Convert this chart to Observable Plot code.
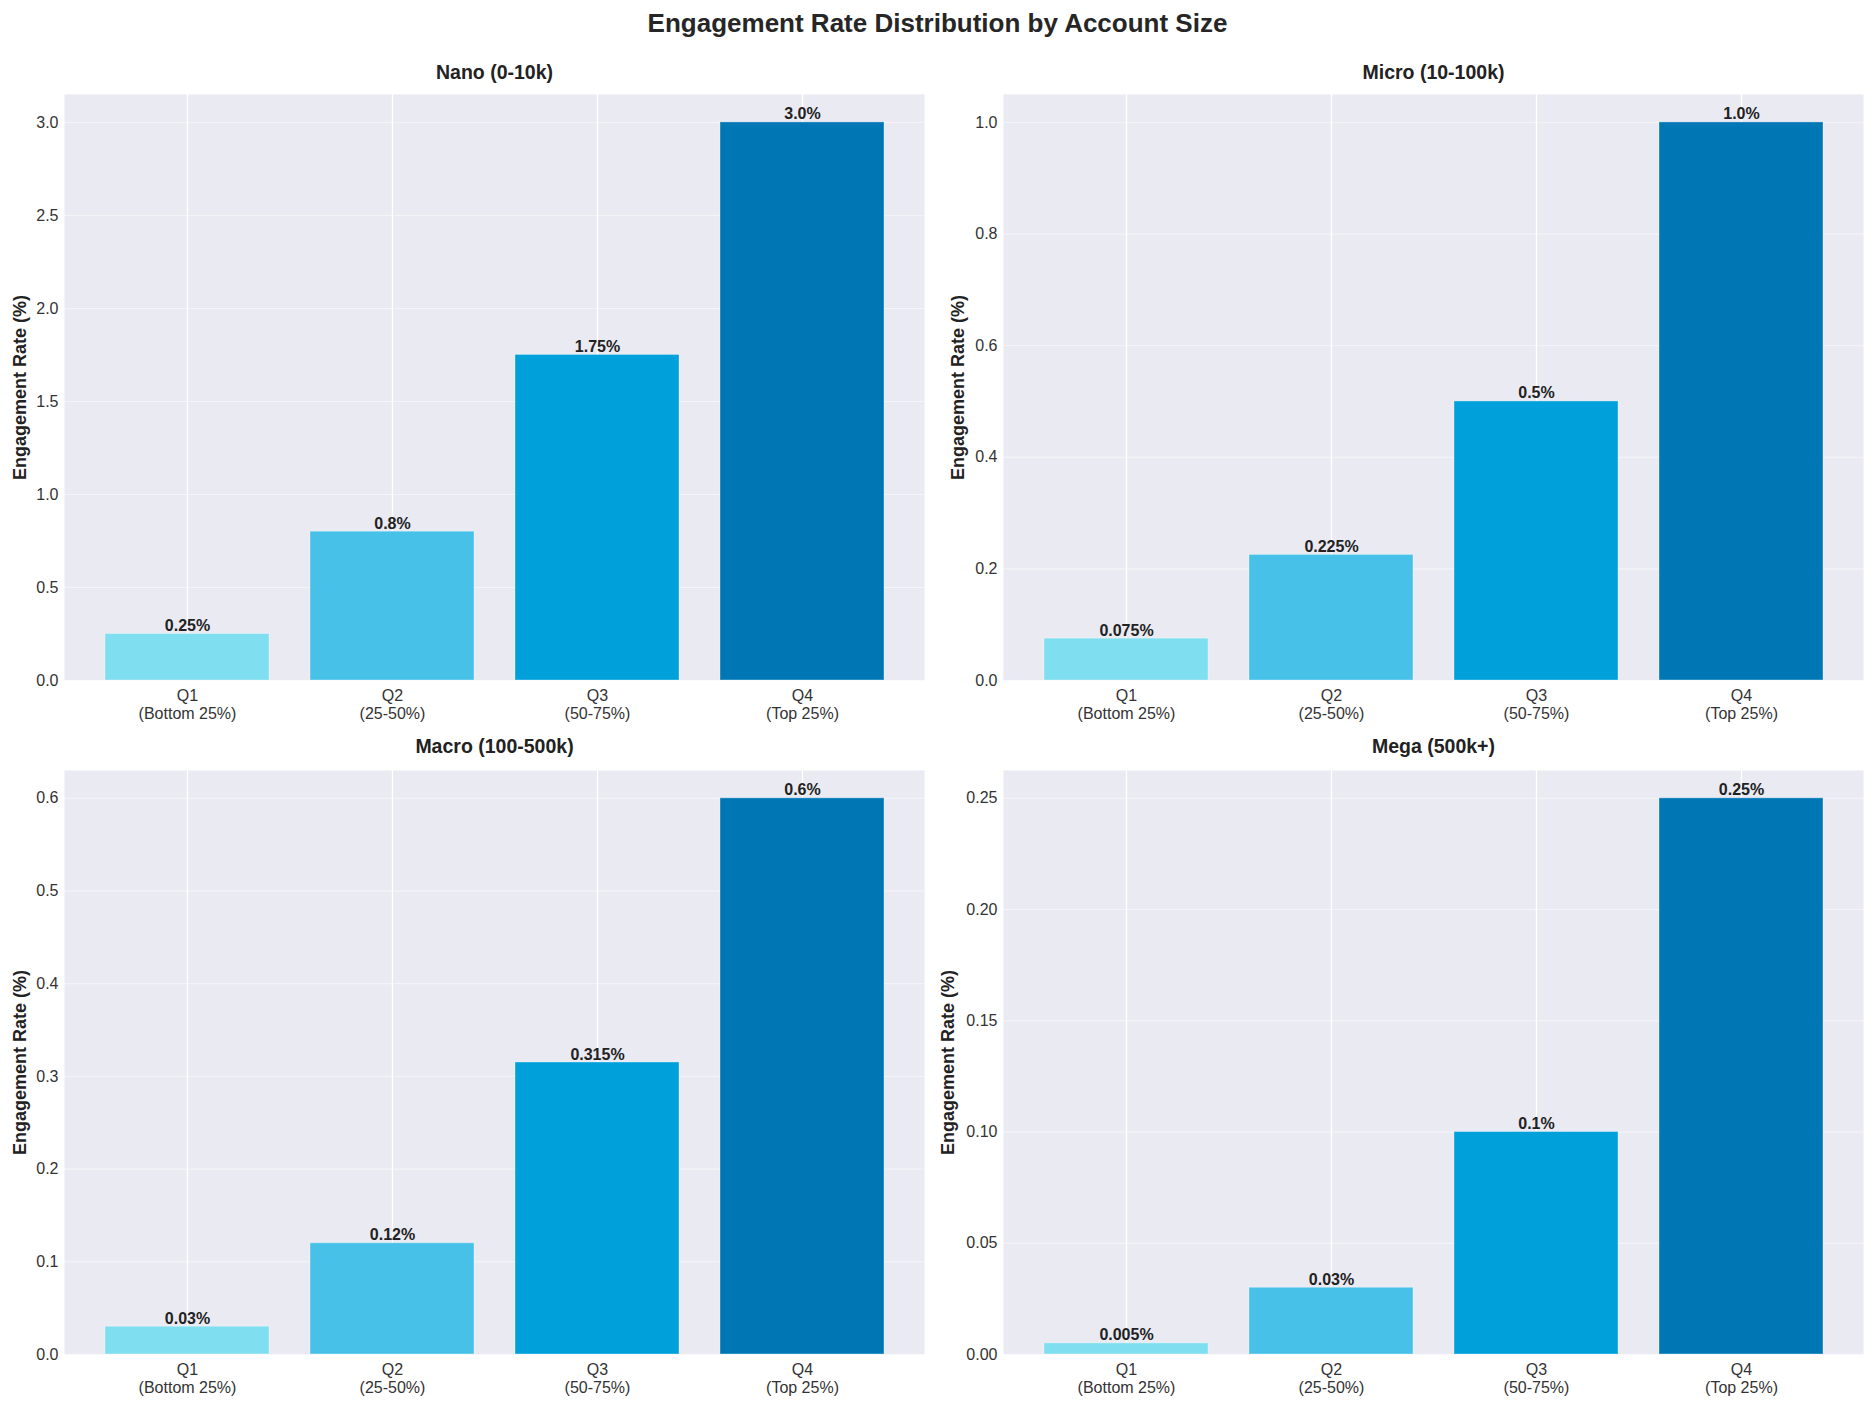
<!DOCTYPE html>
<html>
<head>
<meta charset="utf-8">
<script src="https://cdn.jsdelivr.net/npm/d3@7"></script>
<script src="https://cdn.jsdelivr.net/npm/@observablehq/plot@0.6"></script>
<style>
  html, body { margin: 0; padding: 0; background: #ffffff; }
  #root { position: relative; width: 1875px; height: 1406px; background: #ffffff; font-family: "Liberation Sans", Arial, sans-serif; }
  #title { position: absolute; left: 0; top: 6px; width: 1875px; height: 34px; line-height: 34px; text-align: center; font-size: 26px; font-weight: bold; color: #262626; }
  .panel { position: absolute; }
</style>
</head>
<body>
<div id="root">
  <div id="title">Engagement Rate Distribution by Account Size</div>
</div>
<script>
// ---- data ----
const quartileLabels = ["Q1\n(Bottom 25%)", "Q2\n(25-50%)", "Q3\n(50-75%)", "Q4\n(Top 25%)"];
const barColors = ["#7FDEEF", "#47C1E8", "#00A0DB", "#0077B5"];

const panelTitles = ["Nano (0-10k)", "Micro (10-100k)", "Macro (100-500k)", "Mega (500k+)"];
const nanoValues  = [0.25, 0.8, 1.75, 3.0];
const microValues = [0.075, 0.225, 0.5, 1.0];
const macroValues = [0.03, 0.12, 0.315, 0.6];
const megaValues  = [0.005, 0.03, 0.1, 0.25];

const nanoTicks  = [0, 0.5, 1.0, 1.5, 2.0, 2.5, 3.0];
const microTicks = [0, 0.2, 0.4, 0.6, 0.8, 1.0];
const macroTicks = [0, 0.1, 0.2, 0.3, 0.4, 0.5, 0.6];
const megaTicks  = [0, 0.05, 0.10, 0.15, 0.20, 0.25];

const yLabel = "Engagement Rate (%)";

// ---- layout ----
const panels = [
  {title: panelTitles[0], values: nanoValues,  ticks: nanoTicks,  fmt: d3.format(".1f"), left: 0,   top: 40,  width: 937, height: 700, mL: 64, mR: 13, mT: 54, mB: 60, yl: -44},
  {title: panelTitles[1], values: microValues, ticks: microTicks, fmt: d3.format(".1f"), left: 937, top: 40,  width: 938, height: 700, mL: 66, mR: 12, mT: 54, mB: 60, yl: -45},
  {title: panelTitles[2], values: macroValues, ticks: macroTicks, fmt: d3.format(".1f"), left: 0,   top: 714, width: 937, height: 692, mL: 64, mR: 13, mT: 56, mB: 52, yl: -44},
  {title: panelTitles[3], values: megaValues,  ticks: megaTicks,  fmt: d3.format(".2f"), left: 937, top: 714, width: 938, height: 692, mL: 66, mR: 12, mT: 56, mB: 52, yl: -55}
];

const valueText = v => (Number.isInteger(v) ? v.toFixed(1) : String(v)) + "%";

const root = document.getElementById("root");

for (const p of panels) {
  const data = p.values.map((v, i) => ({q: quartileLabels[i], value: v}));
  const ymax = d3.max(p.values) * 1.05;
  const chart = Plot.plot({
    width: p.width,
    height: p.height,
    marginLeft: p.mL,
    marginRight: p.mR,
    marginTop: p.mT,
    marginBottom: p.mB,
    style: {fontFamily: '"Liberation Sans", Arial, sans-serif', fontSize: "16px", color: "#333333", background: "transparent", overflow: "visible"},
    x: {domain: quartileLabels, paddingInner: 0.2, paddingOuter: 0.19, align: 0.5, label: null},
    y: {domain: [0, ymax], label: null},
    color: {domain: quartileLabels, range: barColors},
    marks: [
      Plot.frame({fill: "#EAEAF2", stroke: null}),
      Plot.gridY(p.ticks, {stroke: "#ffffff", strokeOpacity: 0.55, strokeWidth: 1}),
      Plot.gridX({stroke: "#ffffff", strokeOpacity: 1, strokeWidth: 1.3}),
      Plot.barY(data, {x: "q", y: "value", fill: "q", stroke: "#ffffff", strokeOpacity: 0.35, strokeWidth: 1}),
      Plot.text(data, {x: "q", y: "value", text: d => valueText(d.value), lineAnchor: "bottom", dy: -3, fontWeight: "bold", fontSize: 16, fill: "#222222"}),
      Plot.axisY({ticks: p.ticks, tickFormat: p.fmt, tickSize: 0, tickPadding: 6, label: null, fontSize: 16, fill: "#333333"}),
      Plot.axisX({tickSize: 0, tickPadding: 7, label: null, lineHeight: 1.15, fontSize: 16, fill: "#333333"}),
      Plot.text([yLabel], {text: d => d, frameAnchor: "left", rotate: -90, dx: p.yl, textAnchor: "middle", lineAnchor: "middle", fontWeight: "bold", fontSize: 18, fill: "#222222"}),
      Plot.text([p.title], {text: d => d, frameAnchor: "top", lineAnchor: "middle", dy: -(p.mT - 32), fontWeight: "bold", fontSize: 19.5, fill: "#222222"})
    ]
  });
  chart.classList.add("panel");
  chart.style.left = p.left + "px";
  chart.style.top = p.top + "px";
  root.appendChild(chart);
}
</script>
</body>
</html>
